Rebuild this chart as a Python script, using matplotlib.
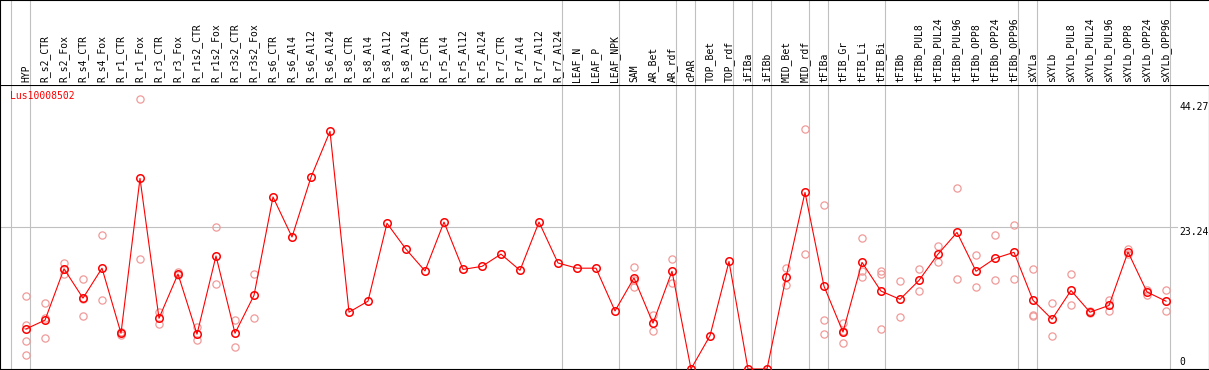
import numpy as np
import matplotlib
matplotlib.use('Agg')
import matplotlib.pyplot as plt
from matplotlib import transforms

# categories along the x axis
categories = ['HYP', 'R_s2_CTR', 'R_s2_Fox', 'R_s4_CTR', 'R_s4_Fox', 'R_r1_CTR', 'R_r1_Fox',
              'R_r3_CTR', 'R_r3_Fox', 'R_r1s2_CTR', 'R_r1s2_Fox', 'R_r3s2_CTR', 'R_r3s2_Fox',
              'R_s6_CTR', 'R_s6_Al4', 'R_s6_Al12', 'R_s6_Al24', 'R_s8_CTR', 'R_s8_Al4',
              'R_s8_Al12', 'R_s8_Al24', 'R_r5_CTR', 'R_r5_Al4', 'R_r5_Al12', 'R_r5_Al24',
              'R_r7_CTR', 'R_r7_Al4', 'R_r7_Al12', 'R_r7_Al24', 'LEAF_N', 'LEAF_P', 'LEAF_NPK',
              'SAM', 'AR_Bet', 'AR_rdf', 'cPAR', 'TOP_Bet', 'TOP_rdf', 'iFIBa', 'iFIBb',
              'MID_Bet', 'MID_rdf', 'tFIBa', 'tFIB_Gr', 'tFIB_Li', 'tFIB_Bi', 'tFIBb',
              'tFIBb_PUL8', 'tFIBb_PUL24', 'tFIBb_PUL96', 'tFIBb_OPP8', 'tFIBb_OPP24',
              'tFIBb_OPP96', 'sXYLa', 'sXYLb', 'sXYLb_PUL8', 'sXYLb_PUL24', 'sXYLb_PUL96',
              'sXYLb_OPP8', 'sXYLb_OPP24', 'sXYLb_OPP96']

# mean expression per sample
means = [6.55, 8.0, 16.4, 11.6, 16.5, 5.85, 31.2, 8.3, 15.55, 5.7, 18.5, 5.85, 12.05,
         28.15, 21.6, 31.4, 38.9, 9.3, 11.1, 23.85, 19.6, 16.05, 24.05, 16.3, 16.8,
         18.8, 16.15, 24.05, 17.35, 16.5, 16.5, 9.5, 14.9, 7.5, 16.0, 0.0, 5.45, 17.6,
         0.0, 0.0, 15.0, 28.9, 13.55, 6.05, 17.45, 12.75, 11.4, 14.5, 18.8, 22.35,
         16.0, 18.1, 19.1, 11.25, 8.15, 12.85, 9.3, 10.4, 19.15, 12.6, 11.1]

# biological replicates (empty = single value)
reps = [[11.95, 7.15, 4.53, 2.24], [10.75, 5.0, 8.3], [17.4, 15.5, 16.3], [14.7, 8.6, 11.4],
        [21.9, 11.3], [6.0, 5.5, 6.0], [44.27, 17.95], [9.4, 7.3], [15.9, 15.4],
        [6.8, 4.8], [23.2, 13.9], [8.0, 3.6], [15.5, 8.4],
        [], [], [], [], [], [], [], [], [], [], [], [], [], [], [], [], [], [], [],
        [16.7, 14.6, 13.5], [8.8, 6.2], [18.0, 14.1], [], [], [], [], [],
        [16.5, 13.7], [39.2, 18.8], [26.8, 8.1, 5.7], [7.6, 4.25, 6.3], [21.4, 16.0, 15.0],
        [16.05, 15.5, 6.55], [14.4, 8.45], [16.3, 12.75], [20.1, 17.45], [29.7, 14.8],
        [18.6, 13.4], [21.9, 14.5], [23.5, 14.7], [16.3, 8.8, 8.6], [10.75, 5.45],
        [15.5, 10.4], [9.5, 9.1], [11.35, 9.45], [19.7, 18.9], [12.9, 12.15], [12.9, 9.45]]

# group separators: drawn just after these sample indices
group_ends = [-1, 0, 28, 31, 34, 35, 37, 38, 39, 41, 42, 45, 52, 53, 60]

gene = 'Lus10008502'
ymax_label = 44.27
ymid_label = 23.24

W, H = 1209, 370
fig = plt.figure(figsize=(W / 100, H / 100), dpi=100)
mono = 'DejaVu Sans Mono'
fs = 7

x = np.arange(len(categories))
xlim = (-26 / 19, (W - 26) / 19)
ytop = (369 - 85) / 6.11

ax = fig.add_axes([0, 1 / H, 1, 284 / H])
hd = fig.add_axes([0, 285 / H, 1, 85 / H])

ax.set_xlim(*xlim)
ax.set_ylim(0, ytop)
hd.set_xlim(*xlim)
hd.set_ylim(85, 0)

for a in (ax, hd):
    a.set_xticks([])
    a.set_yticks([])
    for s in a.spines.values():
        s.set_linewidth(0.8)
        s.set_color('black')
hd.spines['right'].set_visible(False)
hd.spines['bottom'].set_visible(False)

# group separators through header and plot
for g in group_ends:
    for a in (ax, hd):
        a.axvline(g + 0.21, color='#c0c0c0', lw=0.8, zorder=1)

# horizontal reference line
ax.plot([xlim[0], (1177 - 26) / 19], [ymid_label, ymid_label], color='#c0c0c0', lw=0.8, zorder=1)

# replicates
for i, r in enumerate(reps):
    if r:
        ax.plot([i] * len(r), r, 'o', ms=5.2, mfc='none', mec='#f09a9a', mew=0.9, zorder=2)

# mean line
ax.plot(x, means, '-', color='red', lw=0.8, zorder=3)
ax.plot(x, means, 'o', ms=5.4, mfc='none', mec='red', mew=1.1, zorder=4)

# sample labels
for i, c in enumerate(categories):
    hd.text(i, 82, c, rotation=90, ha='center', va='bottom', family=mono, fontsize=fs)

ax.text(10 / W, (369 - 96) / 284, gene, transform=ax.transAxes, color='red',
        family=mono, fontsize=fs, ha='left', va='center')

# value labels on the right
tr = transforms.blended_transform_factory(transforms.IdentityTransform(), ax.transData)
for val, lab, off in [(ymax_label, '44.27', -8), (ymid_label, '23.24', -5), (0, '0', 7)]:
    ax.annotate(lab, xy=(1179, val), xycoords=tr, xytext=(0, off), textcoords='offset pixels',
                family=mono, fontsize=fs, ha='left', va='center', annotation_clip=False)

fig.savefig('out.png', dpi=100)
